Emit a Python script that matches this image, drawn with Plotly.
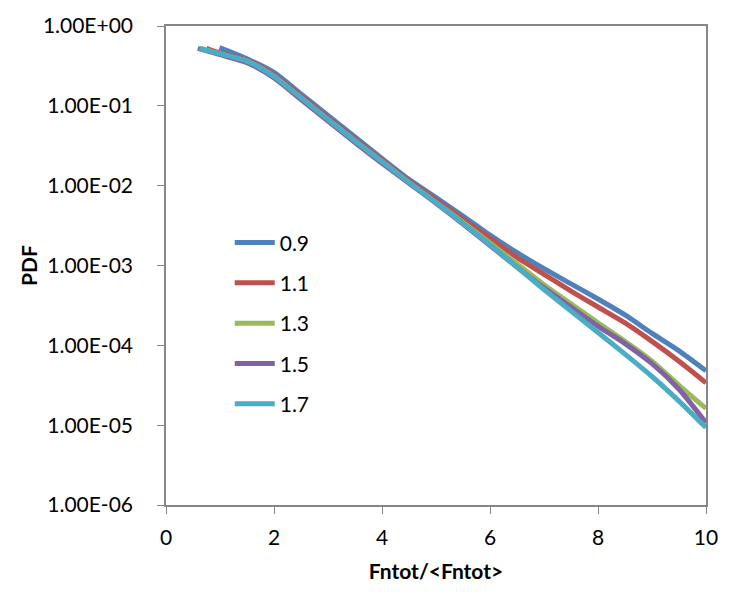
import plotly.graph_objects as go

series_names = ["0.9", "1.1", "1.3", "1.5", "1.7"]
colors = ["#4F81BD", "#C0504D", "#9BBB59", "#8064A2", "#4BACC6"]

grid = [1, 1.5, 2, 2.5, 3, 3.5, 4, 4.5, 5, 5.5, 6, 6.5, 7, 7.5, 8, 8.5, 9, 9.5, 10]

x_09 = [0.99] + grid[1:]
pdf_09 = [0.537, 0.389, 0.263, 0.141, 0.0759, 0.0407, 0.0219, 0.0120, 0.00708, 0.00417,
          0.00240, 0.00145, 0.000912, 0.000589, 0.000380, 0.000240, 1.41e-4, 8.51e-5, 4.79e-5]

x_11 = [0.75] + grid
pdf_11 = [0.525, 0.457, 0.372, 0.245, 0.132, 0.0708, 0.0380, 0.0209, 0.0115, 0.00661, 0.00380,
          0.00219, 0.00126, 0.000776, 0.000479, 0.000302, 0.000191, 0.000112, 6.31e-5, 3.39e-5]

x_13 = [0.65] + grid
pdf_13 = [0.525, 0.447, 0.363, 0.234, 0.126, 0.0676, 0.0363, 0.0200, 0.0110, 0.00617, 0.00347,
          0.00191, 0.00105, 0.000575, 0.000331, 0.000191, 0.000112, 6.31e-5, 3.16e-5, 1.62e-5]

x_15 = [0.59] + grid
pdf_15 = [0.525, 0.437, 0.347, 0.224, 0.120, 0.0646, 0.0347, 0.0191, 0.0107, 0.00603, 0.00331,
          0.00178, 0.000955, 0.000525, 0.000302, 0.000174, 0.000105, 5.89e-5, 2.82e-5, 1.07e-5]

x_17 = [0.62] + grid
pdf_17 = [0.525, 0.447, 0.363, 0.234, 0.126, 0.0676, 0.0363, 0.0200, 0.0110, 0.00617, 0.00339,
          0.00182, 0.000955, 0.000501, 0.000269, 0.000145, 7.76e-5, 4.07e-5, 2.00e-5, 9.33e-6]

xs = [x_09, x_11, x_13, x_15, x_17]
ys = [pdf_09, pdf_11, pdf_13, pdf_15, pdf_17]

y_tickvals = [1e-6, 1e-5, 1e-4, 1e-3, 1e-2, 1e-1, 1]
y_ticktext = ["1.00E-06", "1.00E-05", "1.00E-04", "1.00E-03", "1.00E-02", "1.00E-01", "1.00E+00"]
x_tickvals = [0, 2, 4, 6, 8, 10]

FONT = "Lato, 'Open Sans', sans-serif"
FS = 21

fig = go.Figure()
for name, c, x, y in zip(series_names, colors, xs, ys):
    fig.add_trace(go.Scatter(
        x=x, y=y, mode="lines", name=name, legendgroup=name,
        line=dict(color=c, width=5, shape="spline", smoothing=0.7),
    ))

axis_line = "#868686"
fig.update_layout(
    width=730, height=595,
    margin=dict(l=166, r=19, t=20, b=90),
    paper_bgcolor="white", plot_bgcolor="white",
    font=dict(family=FONT, size=FS, color="black"),
    showlegend=True,
    legend=dict(x=0.118, y=0.59, xanchor="left", yanchor="top",
                bgcolor="rgba(0,0,0,0)", font=dict(size=FS, family=FONT),
                tracegroupgap=10, itemwidth=40),
    xaxis=dict(range=[0, 10], tickvals=x_tickvals, showgrid=False, zeroline=False,
               showline=True, linecolor=axis_line, linewidth=1.5, mirror=True,
               ticks="outside", ticklen=7, tickcolor=axis_line,
               tickfont=dict(size=FS, family=FONT), ticklabelstandoff=6,
               title=dict(text="<b>Fntot/<Fntot></b>", font=dict(size=FS, family=FONT), standoff=16)),
    yaxis=dict(type="log", range=[-6, 0], tickvals=y_tickvals, ticktext=y_ticktext,
               showgrid=False, zeroline=False,
               showline=True, linecolor=axis_line, linewidth=1.5, mirror=True,
               ticks="outside", ticklen=7, tickcolor=axis_line,
               tickfont=dict(size=FS, family=FONT), ticklabelstandoff=20,
               title=dict(text="<b>PDF</b>", font=dict(size=FS, family=FONT), standoff=0)),
)

fig.write_html("out.html")
